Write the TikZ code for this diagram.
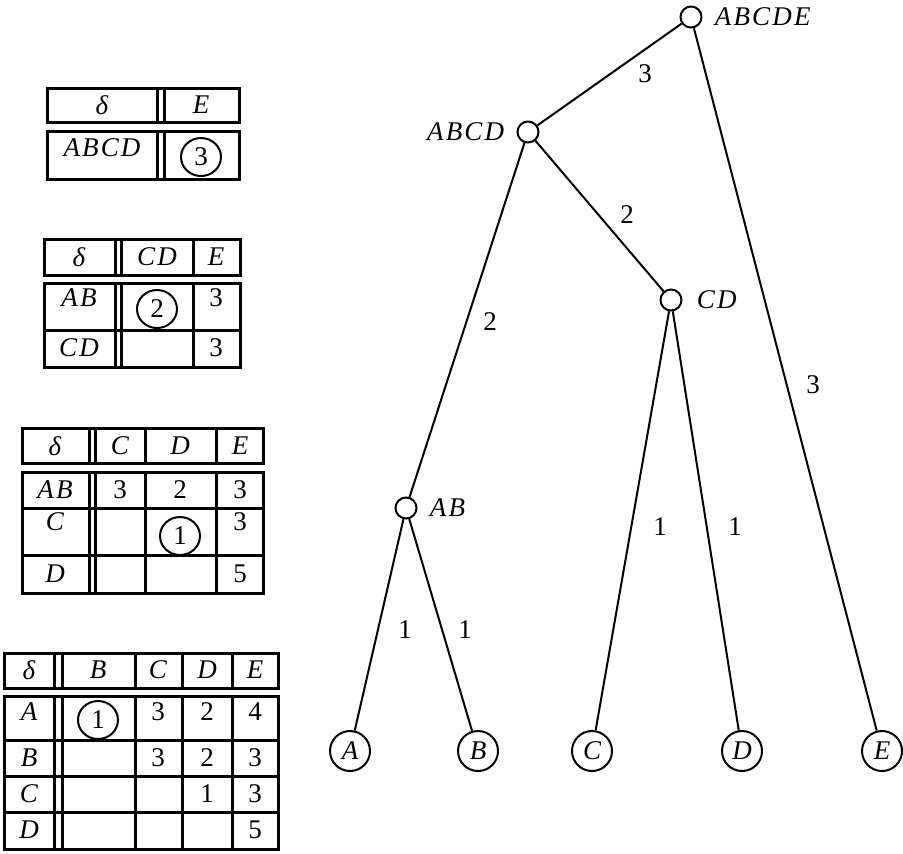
\documentclass[tikz,border=0pt]{standalone}
\usepackage{fontspec}
\setmainfont{Liberation Serif}
\newfontfamily\itfont{Liberation Serif}[LetterSpace=8]
\usetikzlibrary{shapes.geometric,positioning}

\newcommand\labfont{\fontsize{13.5}{15}\selectfont\itfont\itshape}
\newcommand\numfont{\fontsize{13.5}{15}\selectfont}

\tikzset{
  inner/.style={draw, circle, line width=1pt, minimum size=10.5pt, inner sep=0pt},
  leaf/.style={draw, ellipse, line width=1pt, minimum width=20pt, minimum height=20pt, inner sep=0pt, font=\labfont},
  ring/.style={draw, ellipse, line width=1pt, minimum width=20pt, minimum height=19pt, inner sep=0pt, font=\numfont},
  tag/.style={font=\labfont, inner sep=1pt},
  num/.style={font=\numfont, inner sep=1pt},
  grid/.style={line width=1.5pt},
  edge/.style={line width=1pt},
}

\begin{document}
\begin{tikzpicture}[x=0.5pt,y=-0.5pt]
\useasboundingbox (0,0) rectangle (903,853);
% the tree
\node[inner] (abcde) at (691,17) {};
\node[inner] (abcd) at (528,132) {};
\node[inner] (cd) at (671,300) {};
\node[inner] (ab) at (406,508) {};
\node[leaf] (a) at (350,751) {A};
\node[leaf] (b) at (478,751) {B};
\node[leaf] (c) at (592,751) {C};
\node[leaf] (d) at (742,751) {D};
\node[leaf] (e) at (882,751) {E};
\node[tag, right=5pt of abcde] (abcde-t) {ABCDE};
\node[tag, left=5pt of abcd] (abcd-t) {ABCD};
\node[tag, right=6pt of cd] (cd-t) {CD};
\node[tag, right=5pt of ab] (ab-t) {AB};
\draw[edge] (abcde) -- (abcd);
\draw[edge] (abcde) -- (e);
\draw[edge] (abcd) -- (cd);
\draw[edge] (abcd) -- (ab);
\draw[edge] (cd) -- (c);
\draw[edge] (cd) -- (d);
\draw[edge] (ab) -- (a);
\draw[edge] (ab) -- (b);
\node[num] (w-abcd) at (645,74) {3};
\node[num] (w-cd) at (627,215) {2};
\node[num] (w-ab) at (490,322) {2};
\node[num] (w-e) at (813,385) {3};
\node[num] (w-c) at (660,527) {1};
\node[num] (w-d) at (735,527) {1};
\node[num] (w-a) at (405,630) {1};
\node[num] (w-b) at (465,630) {1};
% table for step 4
\draw[grid] (47,88) rectangle (239,122);
\draw[grid] (47,131) rectangle (239,179);
\draw[grid] (157,88) -- (157,122) (164,88) -- (164,122);
\draw[grid] (157,131) -- (157,179) (164,131) -- (164,179);
\node[tag] (s4-h0) at (102,105) {δ};
\node[tag] (s4-h1) at (201,105) {E};
\node[tag] (s4-r1) at (102,148) {ABCD};
\node[ring] (s4-min) at (201,157) {3};
% table for step 3
\draw[grid] (44,239) rectangle (240,275);
\draw[grid] (44,283) rectangle (240,367);
\draw[grid] (44,330) -- (240,330);
\draw[grid] (115,239) -- (115,275) (121,239) -- (121,275) (193,239) -- (193,275);
\draw[grid] (115,283) -- (115,367) (121,283) -- (121,367) (193,283) -- (193,367);
\node[tag] (s3-h0) at (79,257) {δ};
\node[tag] (s3-h1) at (157,257) {CD};
\node[tag] (s3-h2) at (216,257) {E};
\node[tag] (s3-r1) at (79,298) {AB};
\node[ring] (s3-min) at (157,309) {2};
\node[num] (s3-r1e) at (216,298) {3};
\node[tag] (s3-r2) at (79,348) {CD};
\node[num] (s3-r2e) at (216,348) {3};
% table for step 2
\draw[grid] (22,428) rectangle (263,463);
\draw[grid] (22,472) rectangle (263,593);
\draw[grid] (22,508) -- (263,508) (22,555) -- (263,555);
\draw[grid] (89,428) -- (89,463) (95,428) -- (95,463) (145,428) -- (145,463) (216,428) -- (216,463);
\draw[grid] (89,472) -- (89,593) (95,472) -- (95,593) (145,472) -- (145,593) (216,472) -- (216,593);
\node[tag] (s2-h0) at (55,446) {δ};
\node[tag] (s2-h1) at (120,446) {C};
\node[tag] (s2-h2) at (180,446) {D};
\node[tag] (s2-h3) at (240,446) {E};
\node[tag] (s2-r1) at (55,490) {AB};
\node[num] (s2-r1c) at (120,490) {3};
\node[num] (s2-r1d) at (180,490) {2};
\node[num] (s2-r1e) at (240,490) {3};
\node[tag] (s2-r2) at (55,522) {C};
\node[ring] (s2-min) at (180,536) {1};
\node[num] (s2-r2e) at (240,522) {3};
\node[tag] (s2-r3) at (55,574) {D};
\node[num] (s2-r3e) at (240,574) {5};
% table for step 1
\draw[grid] (4,653) rectangle (278,688);
\draw[grid] (4,696) rectangle (278,849);
\draw[grid] (4,740) -- (278,740) (4,776) -- (278,776) (4,812) -- (278,812);
\draw[grid] (54,653) -- (54,688) (62,653) -- (62,688) (135,653) -- (135,688) (182,653) -- (182,688) (232,653) -- (232,688);
\draw[grid] (54,696) -- (54,849) (62,696) -- (62,849) (135,696) -- (135,849) (182,696) -- (182,849) (232,696) -- (232,849);
\node[tag] (s1-h0) at (29,670) {δ};
\node[tag] (s1-h1) at (98,670) {B};
\node[tag] (s1-h2) at (158,670) {C};
\node[tag] (s1-h3) at (207,670) {D};
\node[tag] (s1-h4) at (255,670) {E};
\node[tag] (s1-r1) at (29,712) {A};
\node[ring] (s1-min) at (98,720) {1};
\node[num] (s1-r1c) at (158,712) {3};
\node[num] (s1-r1d) at (207,712) {2};
\node[num] (s1-r1e) at (255,712) {4};
\node[tag] (s1-r2) at (29,758) {B};
\node[num] (s1-r2c) at (158,758) {3};
\node[num] (s1-r2d) at (207,758) {2};
\node[num] (s1-r2e) at (255,758) {3};
\node[tag] (s1-r3) at (29,794) {C};
\node[num] (s1-r3d) at (207,794) {1};
\node[num] (s1-r3e) at (255,794) {3};
\node[tag] (s1-r4) at (29,830) {D};
\node[num] (s1-r4e) at (255,830) {5};
\end{tikzpicture}
\end{document}
